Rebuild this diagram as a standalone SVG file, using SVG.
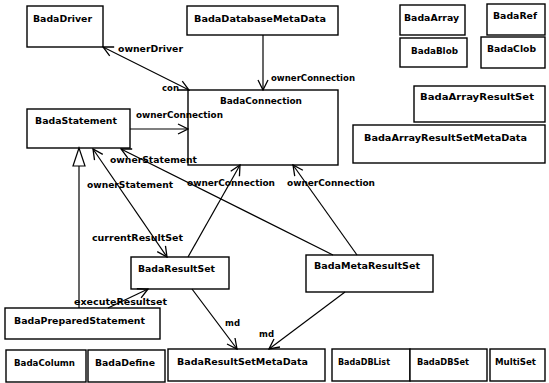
<svg xmlns="http://www.w3.org/2000/svg" width="549" height="383" viewBox="0 0 549 383">
<style>
.n rect{fill:#fff;stroke:#000;stroke-width:1.4}
.t{font-family:"DejaVu Sans","Liberation Sans",sans-serif;font-weight:bold;font-size:9.5px;fill:#000}
.l{font-family:"DejaVu Sans","Liberation Sans",sans-serif;font-weight:bold;font-size:9px;fill:#000}
.c line,.c path{stroke:#000;stroke-width:1.2;fill:none}
</style>
<defs>
<marker id="a" viewBox="0 0 12 12" refX="11" refY="6" markerWidth="12" markerHeight="12" markerUnits="userSpaceOnUse" orient="auto-start-reverse">
<path d="M1,1 L11,6 L1,11" fill="none" stroke="#000" stroke-width="1.3"/>
</marker>
</defs>
<rect width="549" height="383" fill="#fff"/>
<g class="n" id="BadaDriver"><rect x="27" y="6" width="76" height="41"/><text class="t" x="33" y="22" textLength="59" lengthAdjust="spacingAndGlyphs">BadaDriver</text></g>
<g class="n" id="BadaDatabaseMetaData"><rect x="187" y="6" width="151" height="29"/><text class="t" x="194" y="22" textLength="132" lengthAdjust="spacingAndGlyphs">BadaDatabaseMetaData</text></g>
<g class="n" id="BadaArray"><rect x="400" y="5" width="65" height="30"/><text class="t" x="404" y="21" textLength="55" lengthAdjust="spacingAndGlyphs">BadaArray</text></g>
<g class="n" id="BadaRef"><rect x="487" y="4" width="58" height="31"/><text class="t" x="493" y="19" textLength="44" lengthAdjust="spacingAndGlyphs">BadaRef</text></g>
<g class="n" id="BadaBlob"><rect x="400" y="38" width="67" height="29"/><text class="t" x="411" y="54" textLength="47" lengthAdjust="spacingAndGlyphs">BadaBlob</text></g>
<g class="n" id="BadaClob"><rect x="481" y="37" width="64" height="31"/><text class="t" x="487" y="52" textLength="49" lengthAdjust="spacingAndGlyphs">BadaClob</text></g>
<g class="n" id="BadaConnection"><rect x="188" y="90" width="150" height="75"/><text class="t" x="220" y="104" textLength="82" lengthAdjust="spacingAndGlyphs">BadaConnection</text></g>
<g class="n" id="BadaStatement"><rect x="27" y="109" width="103" height="39"/><text class="t" x="35" y="124" textLength="82" lengthAdjust="spacingAndGlyphs">BadaStatement</text></g>
<g class="n" id="BadaArrayResultSet"><rect x="414" y="86" width="131" height="36"/><text class="t" x="420" y="100" textLength="114" lengthAdjust="spacingAndGlyphs">BadaArrayResultSet</text></g>
<g class="n" id="BadaArrayResultSetMetaData"><rect x="353" y="125" width="192" height="38"/><text class="t" x="364" y="141" textLength="163" lengthAdjust="spacingAndGlyphs">BadaArrayResultSetMetaData</text></g>
<g class="n" id="BadaResultSet"><rect x="131" y="257" width="98" height="32"/><text class="t" x="138" y="272" textLength="77" lengthAdjust="spacingAndGlyphs">BadaResultSet</text></g>
<g class="n" id="BadaMetaResultSet"><rect x="306" y="255" width="127" height="37"/><text class="t" x="314" y="269" textLength="106" lengthAdjust="spacingAndGlyphs">BadaMetaResultSet</text></g>
<g class="n" id="BadaPreparedStatement"><rect x="5" y="308" width="155" height="31"/><text class="t" x="14" y="324" textLength="131" lengthAdjust="spacingAndGlyphs">BadaPreparedStatement</text></g>
<g class="n" id="BadaColumn"><rect x="6" y="350" width="80" height="32"/><text class="t" x="14" y="366" textLength="61" lengthAdjust="spacingAndGlyphs">BadaColumn</text></g>
<g class="n" id="BadaDefine"><rect x="88" y="350" width="77" height="32"/><text class="t" x="95" y="366" textLength="60" lengthAdjust="spacingAndGlyphs">BadaDefine</text></g>
<g class="n" id="BadaResultSetMetaData"><rect x="168" y="349" width="157" height="32"/><text class="t" x="177" y="365" textLength="131" lengthAdjust="spacingAndGlyphs">BadaResultSetMetaData</text></g>
<g class="n" id="BadaDBList"><rect x="332" y="349" width="78" height="32"/><text class="t" x="338" y="365" textLength="52" lengthAdjust="spacingAndGlyphs">BadaDBList</text></g>
<g class="n" id="BadaDBSet"><rect x="410" y="349" width="77" height="32"/><text class="t" x="417" y="365" textLength="52" lengthAdjust="spacingAndGlyphs">BadaDBSet</text></g>
<g class="n" id="MultiSet"><rect x="490" y="349" width="55" height="32"/><text class="t" x="495" y="365" textLength="41" lengthAdjust="spacingAndGlyphs">MultiSet</text></g>
<g class="c" id="connectors">
<line x1="103" y1="47" x2="189" y2="90" marker-start="url(#a)" marker-end="url(#a)"/>
<line x1="263" y1="35" x2="263" y2="90" marker-end="url(#a)"/>
<line x1="130" y1="129" x2="188" y2="129" marker-end="url(#a)"/>
<line x1="121" y1="149" x2="333" y2="255" marker-start="url(#a)"/>
<line x1="93" y1="149" x2="167" y2="257" marker-start="url(#a)" marker-end="url(#a)"/>
<line x1="188" y1="257" x2="240" y2="165" marker-end="url(#a)"/>
<line x1="357" y1="255" x2="293" y2="165" marker-end="url(#a)"/>
<line x1="108" y1="308" x2="148" y2="289" marker-end="url(#a)"/>
<line x1="192" y1="289" x2="237" y2="349" marker-end="url(#a)"/>
<line x1="345" y1="292" x2="269" y2="349" marker-end="url(#a)"/>
<line x1="79" y1="166" x2="79" y2="308"/>
<path d="M79,148 L85,166 L73,166 Z" fill="#fff"/>
<text class="l" x="118" y="52" textLength="65" lengthAdjust="spacingAndGlyphs">ownerDriver</text>
<text class="l" x="162" y="91" textLength="17" lengthAdjust="spacingAndGlyphs">con</text>
<text class="l" x="271" y="81" textLength="84" lengthAdjust="spacingAndGlyphs">ownerConnection</text>
<text class="l" x="136" y="118" textLength="87" lengthAdjust="spacingAndGlyphs">ownerConnection</text>
<text class="l" x="110" y="163" textLength="87" lengthAdjust="spacingAndGlyphs">ownerStatement</text>
<text class="l" x="87" y="188" textLength="86" lengthAdjust="spacingAndGlyphs">ownerStatement</text>
<text class="l" x="187" y="186" textLength="88" lengthAdjust="spacingAndGlyphs">ownerConnection</text>
<text class="l" x="287" y="186" textLength="88" lengthAdjust="spacingAndGlyphs">ownerConnection</text>
<text class="l" x="92" y="241" textLength="91" lengthAdjust="spacingAndGlyphs">currentResultSet</text>
<text class="l" x="74" y="305" textLength="93" lengthAdjust="spacingAndGlyphs">executeResultset</text>
<text class="l" x="225" y="326" textLength="15" lengthAdjust="spacingAndGlyphs">md</text>
<text class="l" x="259" y="337" textLength="15" lengthAdjust="spacingAndGlyphs">md</text>
</g>
</svg>
